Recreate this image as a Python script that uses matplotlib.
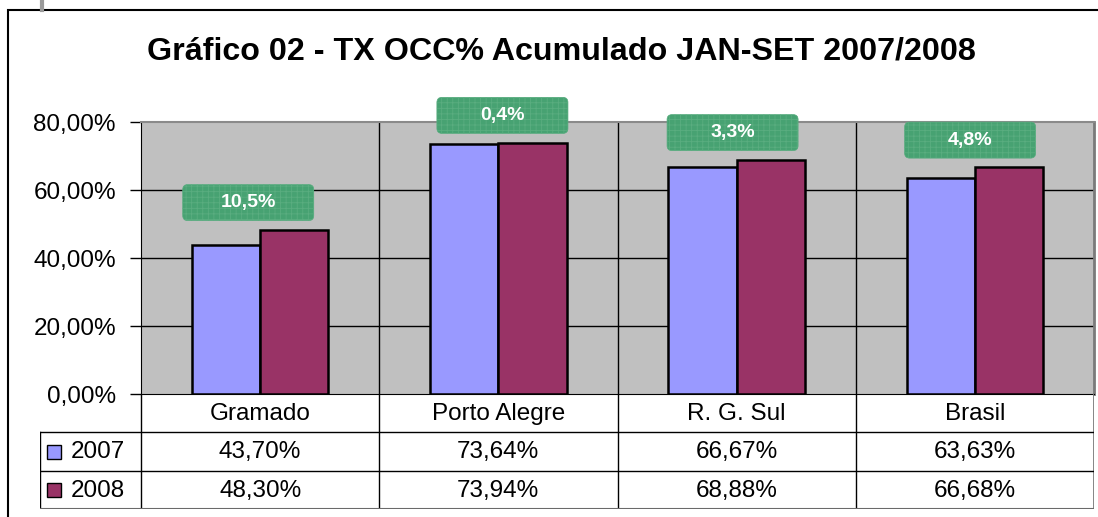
import numpy as np
import matplotlib.pyplot as plt
from matplotlib.patches import FancyBboxPatch, Rectangle
from matplotlib.lines import Line2D

plt.rcParams['font.family'] = ['Liberation Sans', 'DejaVu Sans']
plt.rcParams['hatch.linewidth'] = 0.6

categories = ['Gramado', 'Porto Alegre', 'R. G. Sul', 'Brasil']
years = ['2007', '2008']
occ_2007 = [43.70, 73.64, 66.67, 63.63]
occ_2008 = [48.30, 73.94, 68.88, 66.68]
yticks = [0, 20, 40, 60, 80]
title = 'Gráfico 02 - TX OCC% Acumulado JAN-SET 2007/2008'

colors = ['#9999ff', '#993366']
W, H = 1098, 517


def pbox(l, t, r, b):
    # pixel box -> figure fraction
    return [l / W, 1 - b / H, (r - l) / W, (b - t) / H]


def pct(v, nd=2):
    return f'{v:.{nd}f}%'.replace('.', ',')


fig = plt.figure(figsize=(W / 100, H / 100), dpi=100)

# %% outer frame + title
fig.add_artist(Rectangle((8 / W, -0.2), 2, 1.2 - 10 / H, transform=fig.transFigure,
                         fill=False, ec='black', lw=1.5))
fig.add_artist(Line2D([42 / W, 42 / W], [1, 1 - 10 / H], color='#9a9a9a', lw=3))
fig.text(561 / W, 1 - 59 / H, title, ha='center', va='baseline',
         fontsize=23.2, fontweight='bold')

# %% bars
ax = fig.add_axes(pbox(141, 122, 1094, 394))
ax.set_facecolor('#c0c0c0')
x = np.arange(len(categories))
w = 0.286
v07 = np.array(occ_2007)
v08 = np.array(occ_2008)
ax.bar(x - w / 2, v07, w, color=colors[0], edgecolor='black', lw=1.8, zorder=3)
ax.bar(x + w / 2, v08, w, color=colors[1], edgecolor='black', lw=1.8, zorder=3)
ax.set_xlim(-0.5, len(categories) - 0.5)
ax.set_ylim(0, 80)

for t in yticks[1:-1]:
    ax.axhline(t, color='black', lw=1, zorder=1)
for s in x[:-1] + 0.5:
    ax.axvline(s, color='black', lw=1, zorder=1)

ax.set_xticks([])
ax.set_yticks(yticks)
ax.set_yticklabels([pct(t) for t in yticks])
ax.tick_params(axis='y', length=8, width=1, pad=10, labelsize=17.5)
ax.spines['left'].set_color('black')
ax.spines['bottom'].set_color('black')
ax.spines['top'].set_color('#8a8a8a')
ax.spines['top'].set_linewidth(1.5)
ax.spines['right'].set_color('#7a7a7a')
ax.spines['right'].set_linewidth(2)

# %% variation labels
change = (v08 / v07 - 1) * 100
bw, bh = 0.55, 10.6
shift = [-0.05, 0.017, -0.017, -0.02]  # small nudges of the boxes
for i, c in enumerate(change):
    xc = i + shift[i]
    yc = max(v07[i], v08[i]) + 8
    ax.add_patch(FancyBboxPatch((xc - bw / 2, yc - bh / 2), bw, bh,
                                boxstyle='round,pad=0,rounding_size=0.021',
                                mutation_aspect=70, fc='#47a272', ec='#5aad80',
                                lw=0.5, hatch='+++', clip_on=False, zorder=5))
    ax.text(xc, yc, pct(c, 1), ha='center', va='center', color='white',
            fontsize=14, fontweight='bold', zorder=6, clip_on=False)

# %% data table
lw_ = (141 - 40) / ((1094 - 141) / 4)
tax = fig.add_axes(pbox(40, 394, 1094, 509))
tax.set_xlim(-0.5 - lw_, len(categories) - 0.5)
tax.set_ylim(3, 0)
tax.axis('off')
x0, x1 = -0.5 - lw_, len(categories) - 0.5
tax.plot([x0, x0], [1, 3], color='black', lw=1)
for s in np.arange(len(categories)) - 0.5:
    tax.plot([s, s], [0, 3], color='black', lw=1)
tax.plot([x1, x1], [0, 3], color='#7a7a7a', lw=2)
for r in [1, 2]:
    tax.plot([x0, x1], [r, r], color='black', lw=1)
tax.plot([x0, x1], [3, 3], color='#6a6a6a', lw=1.5)

for i, name in enumerate(categories):
    tax.text(i, 0.52, name, ha='center', va='center', fontsize=17.5)
for r, vals in enumerate([v07, v08]):
    for i, v in enumerate(vals):
        tax.text(i, r + 1.52, pct(v), ha='center', va='center', fontsize=17.5)
    tax.plot(x0 + 14 / 238, r + 1.5, marker='s', ms=10, mfc=colors[r],
             mec='black', mew=1, clip_on=False)
    tax.text(x0 + 31 / 238, r + 1.52, years[r], ha='left', va='center', fontsize=17.5)

fig.savefig('out.png', dpi=100)
